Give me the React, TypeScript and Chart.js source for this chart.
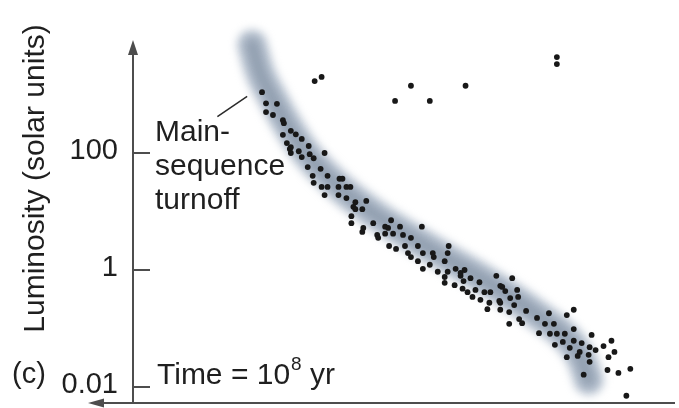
import { useEffect, useRef } from "react";
import { Chart, registerables } from "chart.js";

Chart.register(...registerables);

// ---- data (x: relative surface-temperature index, y: log10 luminosity in solar units) ----
const msTemp = [
  130, 134, 145, 134, 141, 151, 152, 159, 164, 151, 170, 177, 155, 159, 158, 159, 167, 170, 178, 182,
  193, 176, 189, 181, 196, 182, 190, 196, 208, 211, 207, 215, 219, 193, 207, 215, 224, 235, 222, 231,
  224, 220, 242, 220, 232, 231, 246, 254, 260, 269, 257, 291, 247, 254, 262, 272, 280, 274, 258, 265,
  287, 277, 280, 292, 302, 303, 318, 317, 287, 299, 292, 314, 307, 317, 325, 334, 314, 330, 340, 324,
  314, 330, 333, 349, 366, 382, 332, 345, 337, 354, 360, 370, 375, 387, 342, 350, 359, 369, 380, 388,
  384, 357, 370, 379, 396, 389, 392, 379, 407, 419, 415, 424, 437, 444, 409, 420, 427, 435, 444, 425,
  433, 444, 452, 462, 440, 450, 460, 466, 474, 482, 437, 448, 459, 479, 485, 460, 454, 478, 489, 501,
  497, 372, 370,
];
const msLogL = [
  3.04, 2.85, 2.84, 2.7, 2.65, 2.56, 2.51, 2.38, 2.32, 2.31, 2.24, 2.12, 2.17, 2.1, 2.07, 2.0, 2.03, 1.93, 1.98, 1.91,
  2.0, 1.76, 1.73, 1.61, 1.61, 1.49, 1.42, 1.42, 1.56, 1.56, 1.42, 1.42, 1.42, 1.28, 1.28, 1.23, 1.16, 1.18, 1.08, 1.04,
  1.04, 0.92, 0.8, 0.8, 0.72, 0.65, 0.6, 0.74, 0.85, 0.74, 0.72, 0.74, 0.55, 0.62, 0.62, 0.6, 0.55, 0.41, 0.41, 0.36,
  0.41, 0.29, 0.22, 0.29, 0.29, 0.22, 0.41, 0.29, 0.15, 0.09, 0.02, 0.15, -0.03, -0.03, 0.02, 0.0, -0.12, -0.1, -0.14, -0.26,
  -0.22, -0.05, -0.19, -0.21, -0.1, -0.14, -0.32, -0.34, -0.38, -0.38, -0.38, -0.27, -0.36, -0.34, -0.46, -0.51, -0.56, -0.53, -0.48, -0.46,
  -0.6, -0.67, -0.68, -0.72, -0.7, -0.84, -0.91, -0.92, -0.82, -0.74, -0.92, -0.92, -0.77, -0.68, -1.08, -1.09, -1.09, -1.09, -1.01, -1.28,
  -1.23, -1.21, -1.25, -1.11, -1.33, -1.4, -1.32, -1.37, -1.3, -1.21, -1.49, -1.47, -1.45, -1.49, -1.4, -1.57, -1.79, -1.71, -1.76, -1.69,
  -2.15, -0.29, -0.56,
];
const giantTemp = [264, 280, 299, 335, 427, 427, 183, 190];
const giantLogL = [2.89, 3.15, 2.89, 3.15, 3.64, 3.52, 3.23, 3.3];

const bandTemp = [120, 127, 140, 170, 200, 242, 297, 354, 405, 445, 453, 459];
const bandLogL = [3.85, 3.42, 2.96, 2.1, 1.54, 0.97, 0.39, -0.17, -0.74, -1.32, -1.57, -1.88];

const yTickLogL = [-2, 0, 2];
const yTickLabels = ["0.01", "1", "100"];
const yTitle = "Luminosity (solar units)";
const panelLabel = "(c)";
const timeLabel = ["Time = 10", "8", " yr"];
const turnoffLines = ["Main-", "sequence", "turnoff"];
// leader line of the turnoff note, in data units: [x0, y0, x1, y1]
const turnoffLeader = [85, 2.62, 115, 2.97];

const FONT = '"Liberation Sans", Arial, Helvetica, sans-serif';
const AXIS = "#4d4d4d";
const TEXT = "#1f1f1f";

const pts = (xs: number[], ys: number[]) => xs.map((x, i) => ({ x, y: ys[i] }));

const blurPlugin = {
  id: "bandBlur",
  beforeDatasetDraw(chart: any, args: any) {
    const ds = chart.data.datasets[args.index];
    if (ds.blur) {
      chart.ctx.save();
      chart.ctx.filter = `blur(${ds.blur}px)`;
    }
  },
  afterDatasetDraw(chart: any, args: any) {
    const ds = chart.data.datasets[args.index];
    if (ds.blur) chart.ctx.restore();
  },
};

const decorPlugin = {
  id: "decor",
  afterDraw(chart: any) {
    const { ctx, chartArea: a, scales } = chart;
    const xs = scales.x;
    const ys = scales.y;
    ctx.save();
    ctx.strokeStyle = AXIS;
    ctx.fillStyle = AXIS;
    ctx.lineWidth = 2;
    // y axis + arrow
    ctx.beginPath();
    ctx.moveTo(a.left, a.top + 10);
    ctx.lineTo(a.left, a.bottom);
    ctx.stroke();
    ctx.beginPath();
    ctx.moveTo(a.left, a.top);
    ctx.lineTo(a.left - 5, a.top + 15);
    ctx.lineTo(a.left + 5, a.top + 15);
    ctx.closePath();
    ctx.fill();
    // x axis + arrow (pointing left)
    ctx.beginPath();
    ctx.moveTo(a.left - 33, a.bottom);
    ctx.lineTo(a.right, a.bottom);
    ctx.stroke();
    ctx.beginPath();
    ctx.moveTo(a.left - 45, a.bottom);
    ctx.lineTo(a.left - 29, a.bottom - 4.5);
    ctx.lineTo(a.left - 29, a.bottom + 4.5);
    ctx.closePath();
    ctx.fill();
    // ticks + labels
    ctx.font = `29px ${FONT}`;
    ctx.textAlign = "right";
    ctx.textBaseline = "middle";
    yTickLogL.forEach((v, i) => {
      const py = ys.getPixelForValue(v);
      ctx.strokeStyle = AXIS;
      ctx.beginPath();
      ctx.moveTo(a.left, py);
      ctx.lineTo(a.left + 17, py);
      ctx.stroke();
      ctx.fillStyle = TEXT;
      ctx.fillText(yTickLabels[i], a.left - 15, py - 2);
    });
    // y title
    ctx.save();
    ctx.translate(36, (a.top + a.bottom) / 2 - 43);
    ctx.rotate(-Math.PI / 2);
    ctx.textAlign = "center";
    ctx.textBaseline = "middle";
    ctx.font = `30px ${FONT}`;
    ctx.fillStyle = TEXT;
    ctx.fillText(yTitle, 0, 0);
    ctx.restore();
    // panel label
    ctx.fillStyle = TEXT;
    ctx.textAlign = "left";
    ctx.textBaseline = "alphabetic";
    ctx.font = `29px ${FONT}`;
    ctx.fillText(panelLabel, 12, 383);
    // time label
    let tx = a.left + 24;
    const ty = 384;
    ctx.font = `30px ${FONT}`;
    ctx.fillText(timeLabel[0], tx, ty);
    tx += ctx.measureText(timeLabel[0]).width + 1;
    ctx.font = `19px ${FONT}`;
    ctx.fillText(timeLabel[1], tx, ty - 14);
    tx += ctx.measureText(timeLabel[1]).width;
    ctx.font = `30px ${FONT}`;
    ctx.fillText(timeLabel[2], tx, ty);
    // turnoff note
    ctx.font = `30px ${FONT}`;
    turnoffLines.forEach((s, i) => ctx.fillText(s, a.left + 22, 141 + i * 34));
    ctx.strokeStyle = "#2a2a2a";
    ctx.lineWidth = 1.5;
    ctx.beginPath();
    ctx.moveTo(xs.getPixelForValue(turnoffLeader[0]), ys.getPixelForValue(turnoffLeader[1]));
    ctx.lineTo(xs.getPixelForValue(turnoffLeader[2]), ys.getPixelForValue(turnoffLeader[3]));
    ctx.stroke();
    ctx.restore();
  },
};

const bandBase = {
  type: "line",
  borderCapStyle: "round",
  borderJoinStyle: "round",
  cubicInterpolationMode: "monotone",
  pointRadius: 0,
  fill: false,
  clip: false,
};

export default function App() {
  const ref = useRef<HTMLCanvasElement | null>(null);
  useEffect(() => {
    if (!ref.current) return;
    const chart = new Chart(ref.current, {
      type: "scatter",
      data: {
        datasets: [
          {
            label: "Main sequence stars",
            data: pts(msTemp, msLogL),
            backgroundColor: "#181818",
            borderWidth: 0,
            pointRadius: 2.9,
            order: 1,
          } as any,
          {
            label: "Giants",
            data: pts(giantTemp, giantLogL),
            backgroundColor: "#181818",
            borderWidth: 0,
            pointRadius: 2.9,
            order: 1,
          } as any,
          {
            ...bandBase,
            label: "Main-sequence band core",
            data: pts(bandTemp, bandLogL),
            borderColor: "rgba(110,126,146,0.5)",
            borderWidth: 14,
            blur: 5,
            order: 2,
          } as any,
          {
            ...bandBase,
            label: "Main-sequence band",
            data: pts(bandTemp, bandLogL),
            borderColor: "rgba(162,176,194,0.78)",
            borderWidth: 30,
            blur: 4,
            order: 3,
          } as any,
        ],
      },
      options: {
        responsive: false,
        animation: false,
        events: [],
        layout: { padding: { left: 133, top: 40, right: 0, bottom: 5 } },
        plugins: { legend: { display: false }, tooltip: { enabled: false } },
        scales: {
          x: { type: "linear", min: 0, max: 546, display: false },
          y: { type: "linear", min: -2.274, max: 3.932, display: false },
        },
      },
      plugins: [blurPlugin, decorPlugin],
    });
    return () => chart.destroy();
  }, []);
  return (
    <div style={{ position: "absolute", left: 0, top: 0, width: 679, height: 408, background: "#fff" }}>
      <canvas ref={ref} width={679} height={408} />
    </div>
  );
}
